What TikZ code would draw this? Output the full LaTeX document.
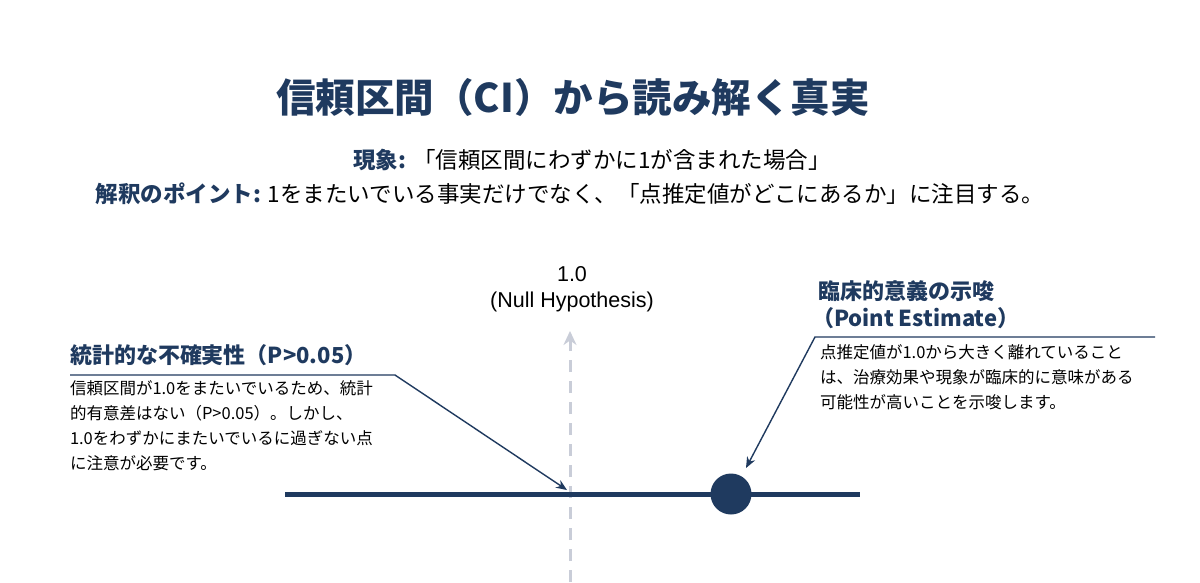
\documentclass[tikz,border=0pt]{standalone}
\usepackage{fontspec}
\setmainfont{Noto Sans CJK JP}
\newfontfamily\lat{Liberation Sans}
\usetikzlibrary{arrows.meta}
\definecolor{navy}{HTML}{1F3A5F}
\definecolor{axisgray}{HTML}{C9CDD8}
\begin{document}
\begin{tikzpicture}[x=1pt,y=-1pt,
  lbl/.style={inner sep=0pt,outer sep=0pt},
  callline/.style={draw=navy,line width=1.4pt,-{Stealth[length=11pt,width=9pt]}}]
\useasboundingbox (0,0) rectangle (1200,582);
\fill[white] (0,0) rectangle (1200,582);
\node[lbl,text=navy,font=\fontsize{39.5}{44}\selectfont\bfseries] (title) at (573,97) {信頼区間（CI）から読み解く真実};
\node[lbl,font=\fontsize{22.5}{26}\selectfont] (l1) at (592,160) {\textcolor{navy}{\bfseries 現象:} 「信頼区間にわずかに1が含まれた場合」};
\node[lbl,font=\fontsize{22.5}{26}\selectfont] (l2) at (570,194) {\textcolor{navy}{\bfseries 解釈のポイント:} 1をまたいでいる事実だけでなく、「点推定値がどこにあるか」に注目する。};
% axis
\coordinate (axb) at (570,582);
\coordinate (axt) at (570,331);
\draw[axisgray,line width=3pt,dash pattern=on 12pt off 9pt] (axb) -- (570,348);
\draw[axisgray,line width=3pt,-{Stealth[length=14pt,width=13pt]}] (570,350) -- (axt);
\node[lbl,font=\lat\fontsize{21.5}{24}\selectfont] (one) at (572,274) {1.0};
\node[lbl,font=\lat\fontsize{21.5}{24}\selectfont] (null) at (572,302) {(Null Hypothesis)};
% CI
\coordinate (cil) at (285,494);
\coordinate (cir) at (860,494);
\draw[navy,line width=5pt] (cil) -- (cir);
\node[circle,fill=navy,minimum size=41pt,inner sep=0pt] (pt) at (731,494) {};
% left callout
\node[lbl,anchor=west,text=navy,font=\fontsize{22}{26}\selectfont\bfseries] (lh) at (70,355) {統計的な不確実性（P>0.05）};
\node[lbl,anchor=north west,align=left,font=\fontsize{16.5}{25}\selectfont] (lb) at (70,381) {信頼区間が1.0をまたいでいるため、統計\\的有意差はない（P>0.05）。しかし、\\1.0をわずかにまたいでいるに過ぎない点\\に注意が必要です。};
\coordinate (lu0) at (70,375);
\coordinate (lu1) at (395,375);
\coordinate (ltip) at (567,490);
\draw[callline] (lu0) -- (lu1) -- (ltip);
% right callout
\node[lbl,anchor=west,text=navy,font=\fontsize{22}{26}\selectfont\bfseries] (rh) at (818,291) {臨床的意義の示唆};
\node[lbl,anchor=west,text=navy,font=\fontsize{22}{26}\selectfont\bfseries] (rh2) at (812,318) {（Point Estimate）};
\node[lbl,anchor=north west,align=left,font=\fontsize{16.5}{25}\selectfont] (rb) at (820,345) {点推定値が1.0から大きく離れていること\\は、治療効果や現象が臨床的に意味がある\\可能性が高いことを示唆します。};
\coordinate (ru0) at (1155,337);
\coordinate (ru1) at (815,337);
\coordinate (rtip) at (746,468);
\draw[callline] (ru0) -- (ru1) -- (rtip);
\end{tikzpicture}
\end{document}
